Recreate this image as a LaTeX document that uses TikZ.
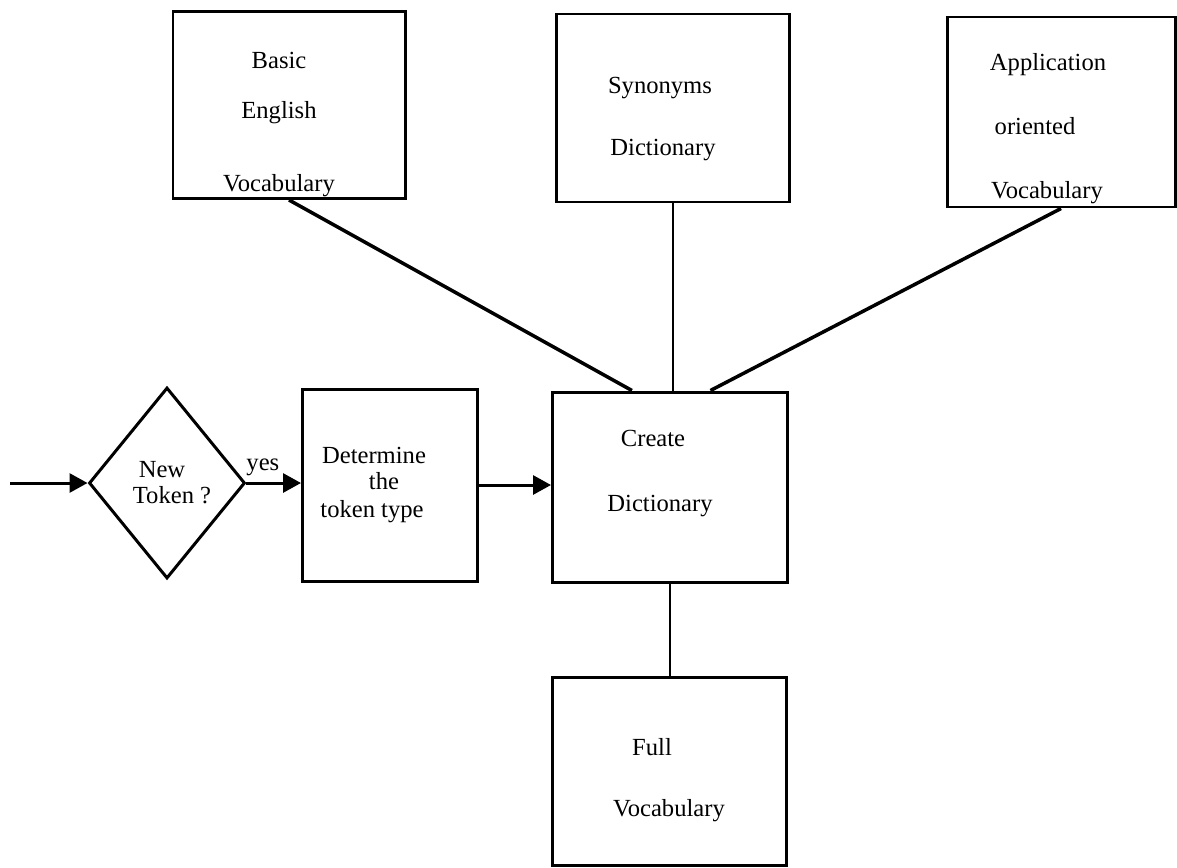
\documentclass[tikz,border=0pt]{standalone}
\usepackage{fontspec}
\setmainfont{Liberation Serif}
\usepackage{tikz}
\usetikzlibrary{arrows.meta,positioning,shapes.geometric,calc}

\begin{document}
\begin{tikzpicture}[x=0.2mm, y=-0.2mm,
    font=\fontsize{14}{16.5}\selectfont,
    box/.style={draw, line width=1.7pt, align=center, inner sep=0pt},
    link/.style={line width=2pt},
    thinlink/.style={line width=1.2pt},
    flow/.style={line width=1.7pt, -{Triangle[length=3.6mm, width=3.8mm]}}]
  \useasboundingbox (0,0) rectangle (1177,867);
  % Vocabulary sources
  \node[box, minimum width=46.4mm, minimum height=37.4mm] (basic) at (289,105)
    {\rule{0pt}{11.2mm}Basic\rule{4mm}{0pt}\\[4.2mm] English\rule{4mm}{0pt}\\[8.8mm] Vocabulary\rule{4mm}{0pt}};
  \node[box, minimum width=46.6mm, minimum height=37.6mm] (synonyms) at (673,108)
    {\rule{0pt}{7.6mm}Synonyms\rule{5.2mm}{0pt}\\[6.6mm] Dictionary\rule{4mm}{0pt}};
  \node[box, minimum width=45.6mm, minimum height=38mm] (appl) at (1061,112)
    {\rule{0pt}{10.1mm}Application\rule{5.2mm}{0pt}\\[7mm] oriented\rule{10.4mm}{0pt}\\[7mm] Vocabulary\rule{5.6mm}{0pt}};
  % Main flow
  \coordinate (entry) at (10,483);
  \node[box, diamond, minimum width=31.2mm, minimum height=38.2mm] (newtok) at (167,483)
    {New\rule{2mm}{0pt}\\[-0.6mm] \rule{2mm}{0pt}Token ?};
  \node[box, minimum width=35mm, minimum height=38.4mm] (determine) at (390,485)
    {Determine\rule{6.4mm}{0pt}\\[-0.6mm] the\rule{2.4mm}{0pt}\\[-0.3mm] token type\rule{7.2mm}{0pt}};
  \node[box, minimum width=47mm, minimum height=38mm] (create) at (670,487)
    {Create\rule{6.8mm}{0pt}\\[7.2mm] Dictionary\rule{4mm}{0pt}\rule[-6.6mm]{0pt}{6.6mm}};
  \node[box, minimum width=46.8mm, minimum height=37.6mm] (full) at (669,771)
    {\rule{0pt}{6.9mm}Full\rule{6.8mm}{0pt}\\[6.4mm] Vocabulary};
  % Arrows
  \draw[flow] (entry) -- (newtok.west);
  \draw[flow] (newtok.east) -- node[above, pos=0.3] {yes} (newtok.east -| determine.west);
  \draw[flow] (determine.east) -- (determine.east -| create.west);
  % Links into the dictionary
  \draw[link] (basic.south) -- ($(create.north west)!0.34!(create.north east)$);
  \draw[thinlink] (synonyms.south) -- (synonyms.south |- create.north);
  \draw[link] (appl.south) -- ($(create.north west)!0.67!(create.north east)$);
  \draw[thinlink] (create.south) -- (create.south |- full.north);
\end{tikzpicture}
\end{document}
